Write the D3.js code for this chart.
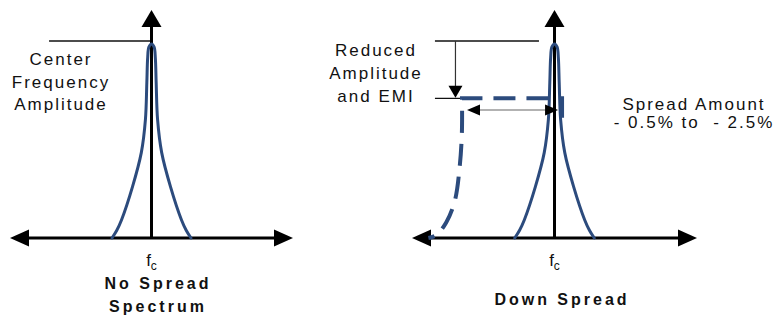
<!DOCTYPE html>
<html>
<head>
<meta charset="utf-8">
<script src="https://cdn.jsdelivr.net/npm/d3@7/dist/d3.min.js"></script>
<style>
  html, body { margin: 0; padding: 0; background: #fff; }
  svg { display: block; }
  text { font-family: "Liberation Sans", Arial, sans-serif; fill: #111; }
</style>
</head>
<body>
<div id="chart"></div>
<script>
// spectral peak around fc (offset in relative frequency units, amplitude in %)
const peakOffset = [-27.9, -24.5, -21.2, -13.4, -7.2, -4.3, -3.3, -2.7, -1.8, 0, 1.8, 2.7, 3.3, 4.3, 7.2, 13.4, 21.2, 24.5, 27.9];
const peakAmplitude = [0, 4, 9.3, 26.5, 44, 61, 80, 93, 98.5, 100, 98.5, 93, 80, 61, 44, 26.5, 9.3, 4, 0];

// down-spread envelope (dashed)
const spreadTopOffset = [5.3, 5.3, -64.9];
const spreadTopAmplitude = [62, 72, 72];
const spreadFallOffset = [-64.9, -65, -66.5, -70, -76, -83, -88.5];
const spreadFallAmplitude = [72, 54, 37, 19, 8, 1.5, 0];

const centerAmplitude = 100;
const reducedAmplitude = 72;
const spreadSpan = [-61.4, 2.5];

const leftNotes = ['Center', 'Frequency', 'Amplitude'];
const rightNotes = ['Reduced', 'Amplitude', 'and EMI'];
const spreadNotes = ['Spread Amount', '- 0.5% to  - 2.5%'];
const panelTitles = [['No Spread', 'Spectrum'], ['Down Spread']];

const width = 774;
const height = 317;

const svg = d3.select('#chart').append('svg')
  .attr('width', width)
  .attr('height', height)
  .attr('viewBox', `0 0 ${width} ${height}`);

const y = d3.scaleLinear().domain([0, 100]).range([238, 44]);
const blue = '#2c4b7d';

const xLeft = d3.scaleLinear().domain([-100, 100]).range([10, 293]);
const xRight = d3.scaleLinear().domain([-100, 100]).range([412, 697]);

function arrowHead(g, tx, ty, dir, len, half, fill) {
  // dir: 'l','r','u','d'
  let pts;
  if (dir === 'l') pts = [[tx, ty], [tx + len, ty - half], [tx + len, ty + half]];
  if (dir === 'r') pts = [[tx, ty], [tx - len, ty - half], [tx - len, ty + half]];
  if (dir === 'u') pts = [[tx, ty], [tx - half, ty + len], [tx + half, ty + len]];
  if (dir === 'd') pts = [[tx, ty], [tx - half, ty - len], [tx + half, ty - len]];
  g.append('polygon')
    .attr('points', pts.map(p => p.join(',')).join(' '))
    .attr('fill', fill || '#000');
}

function drawAxes(x) {
  const g = svg.append('g');
  const [r0, r1] = x.range();
  const y0 = y(0);
  g.append('line')
    .attr('x1', r0 + 10).attr('x2', r1 - 10)
    .attr('y1', y0).attr('y2', y0)
    .attr('stroke', '#000').attr('stroke-width', 3);
  arrowHead(g, r0, y0, 'l', 19, 8.5);
  arrowHead(g, r1, y0, 'r', 19, 8.5);
  g.append('line')
    .attr('x1', x(0)).attr('x2', x(0))
    .attr('y1', y0).attr('y2', 20)
    .attr('stroke', '#000').attr('stroke-width', 3);
  arrowHead(g, x(0), 10, 'u', 17, 10);
}

function drawPeak(x) {
  const line = d3.line()
    .x(d => x(d[0]))
    .y(d => y(d[1]))
    .curve(d3.curveCatmullRom.alpha(0.5));
  svg.append('path')
    .attr('d', line(d3.zip(peakOffset, peakAmplitude)))
    .attr('fill', 'none')
    .attr('stroke', blue)
    .attr('stroke-width', 3)
    .attr('stroke-linejoin', 'round')
    .attr('stroke-linecap', 'round');
}

function fcLabel(x) {
  const t = svg.append('text')
    .attr('x', x(0))
    .attr('y', 266)
    .attr('text-anchor', 'middle')
    .attr('font-size', '17px');
  t.append('tspan').text('f');
  t.append('tspan').attr('dy', 4).attr('font-size', '12px').text('c');
}

function noteBlock(lines, cx, y0, step, opts) {
  lines.forEach((s, i) => {
    svg.append('text')
      .attr('x', cx)
      .attr('y', y0 + i * step)
      .attr('text-anchor', 'middle')
      .attr('font-size', opts.size)
      .attr('font-weight', opts.weight || 'normal')
      .attr('letter-spacing', opts.spacing)
      .style('white-space', 'pre')
      .text(s);
  });
}

// ---- Left panel: no spread ----
// reference line at centre amplitude
svg.append('line')
  .attr('x1', xLeft(-72.4)).attr('x2', xLeft(-1))
  .attr('y1', y(centerAmplitude) - 3).attr('y2', y(centerAmplitude) - 3)
  .attr('stroke', '#111').attr('stroke-width', 1.3);

drawAxes(xLeft);
drawPeak(xLeft);
fcLabel(xLeft);
noteBlock(leftNotes, 61, 65, 22.5, { size: '17px', spacing: '2px' });
noteBlock(panelTitles[0], 158, 289, 23, { size: '16px', weight: 'bold', spacing: '3px' });

// ---- Right panel: down spread ----
const refY = y(centerAmplitude) - 3;
const redY = y(reducedAmplitude);
svg.append('line')
  .attr('x1', xRight(-83.9)).attr('x2', xRight(-10.9))
  .attr('y1', refY).attr('y2', refY)
  .attr('stroke', '#111').attr('stroke-width', 1.3);
svg.append('line')
  .attr('x1', xRight(-83.9)).attr('x2', xRight(-52))
  .attr('y1', redY).attr('y2', redY)
  .attr('stroke', '#111').attr('stroke-width', 1.3);

// amplitude reduction arrow
const downX = xRight(-69.5);
svg.append('line')
  .attr('x1', downX).attr('x2', downX)
  .attr('y1', refY).attr('y2', redY - 10)
  .attr('stroke', '#333').attr('stroke-width', 1.2);
arrowHead(svg, downX, redY - 0.5, 'd', 12, 7);

// dashed spread envelope
const linLine = d3.line().x(d => xRight(d[0])).y(d => y(d[1]));
const fallLine = d3.line().x(d => xRight(d[0])).y(d => y(d[1]))
  .curve(d3.curveCatmullRom.alpha(0.5));
const spreadPath = linLine(d3.zip(spreadTopOffset, spreadTopAmplitude)) +
  fallLine(d3.zip(spreadFallOffset, spreadFallAmplitude)).replace(/^M/, 'L');

drawAxes(xRight);
svg.append('path')
  .attr('d', spreadPath)
  .attr('fill', 'none')
  .attr('stroke', blue)
  .attr('stroke-width', 4)
  .attr('stroke-dasharray', '22,11');
drawPeak(xRight);

// spread span double arrow
const spanY = 110;
svg.append('line')
  .attr('x1', xRight(spreadSpan[0]) + 10).attr('x2', xRight(spreadSpan[1]) - 10)
  .attr('y1', spanY).attr('y2', spanY)
  .attr('stroke', '#666').attr('stroke-width', 1.2);
arrowHead(svg, xRight(spreadSpan[0]), spanY, 'l', 13, 5.5);
arrowHead(svg, xRight(spreadSpan[1]), spanY, 'r', 13, 5.5);

fcLabel(xRight);
noteBlock(rightNotes, 376, 56, 23, { size: '17px', spacing: '2px' });
noteBlock(spreadNotes, 694, 109.5, 18.5, { size: '17px', spacing: '2px' });
noteBlock(panelTitles[1], 562, 305, 23, { size: '16px', weight: 'bold', spacing: '3px' });
</script>
</body>
</html>
